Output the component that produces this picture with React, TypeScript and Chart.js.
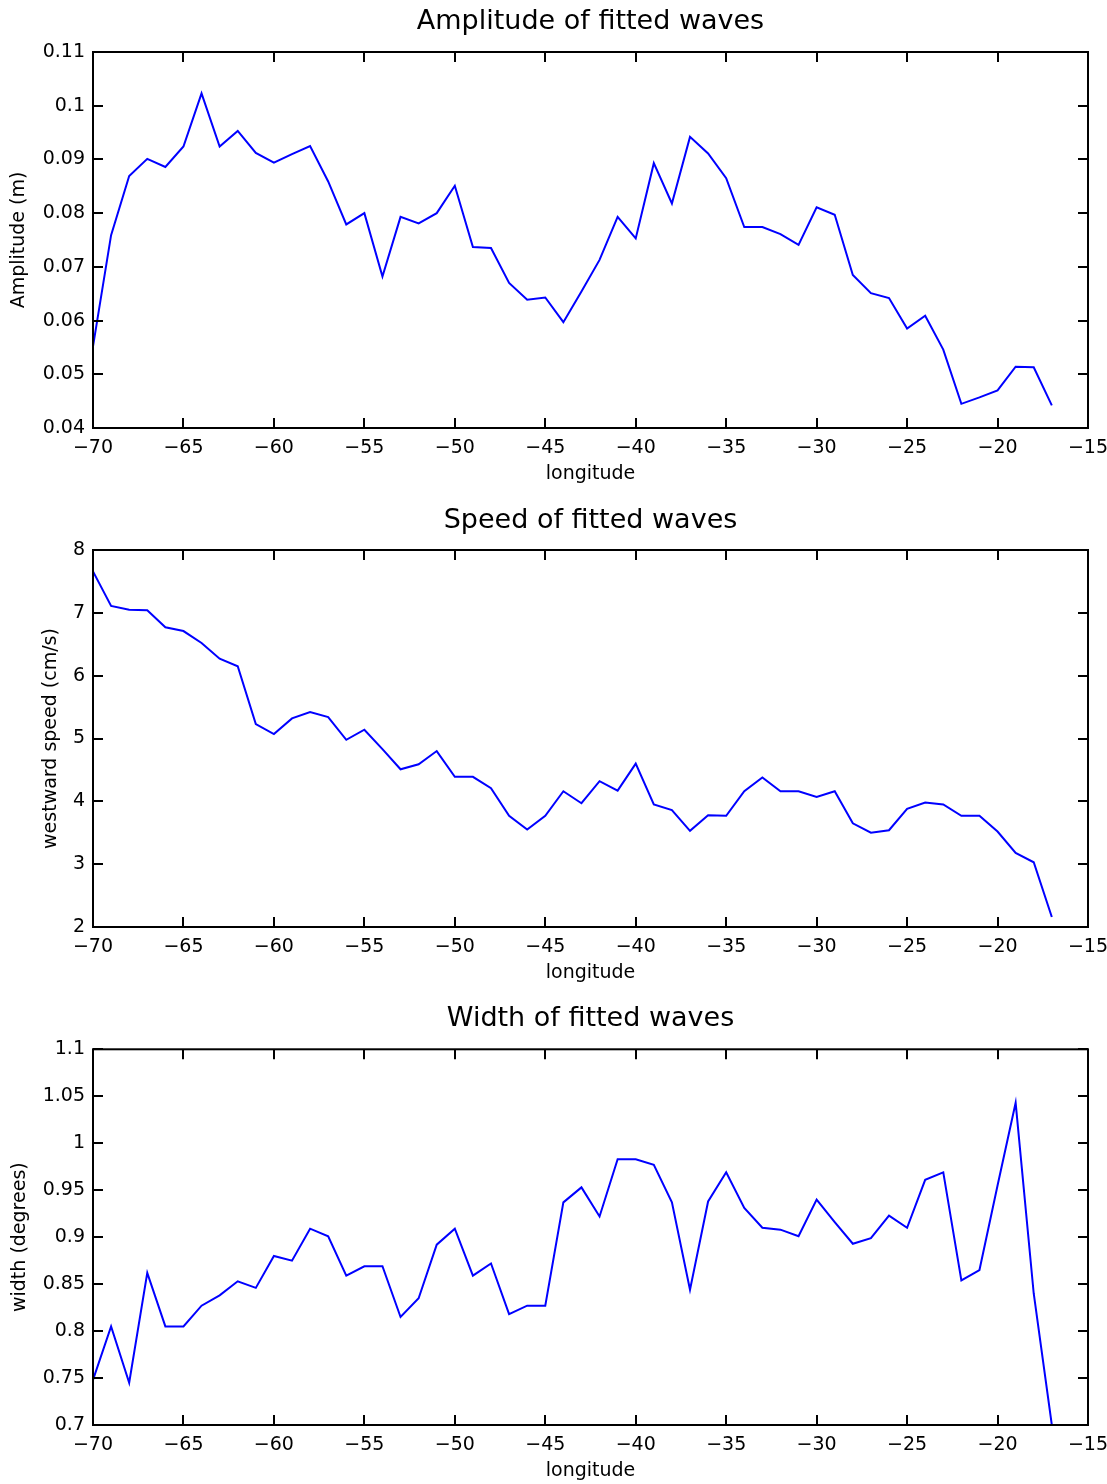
import React, { useEffect, useRef } from 'react';
import { Chart, registerables } from 'chart.js';

Chart.register(...registerables);

// ---- data ----
const longitude = [
  -70, -69, -68, -67, -66, -65, -64, -63, -62, -61,
  -60, -59, -58, -57, -56, -55, -54, -53, -52, -51,
  -50, -49, -48, -47, -46, -45, -44, -43, -42, -41,
  -40, -39, -38, -37, -36, -35, -34, -33, -32, -31,
  -30, -29, -28, -27, -26, -25, -24, -23, -22, -21,
  -20, -19, -18, -17,
];

const amplitude = [
  0.0552, 0.0759, 0.0869, 0.0901, 0.0886, 0.0924, 0.1023, 0.0924, 0.0953, 0.0912,
  0.0894, 0.0910, 0.0925, 0.0859, 0.0779, 0.0800, 0.0682, 0.0793, 0.0781, 0.0800,
  0.0851, 0.0737, 0.0735, 0.0670, 0.0639, 0.0643, 0.0597, 0.0654, 0.0713, 0.0793,
  0.0753, 0.0893, 0.0818, 0.0942, 0.0911, 0.0865, 0.0774, 0.0774, 0.0761, 0.0741,
  0.0811, 0.0797, 0.0685, 0.0651, 0.0642, 0.0585, 0.0609, 0.0546, 0.0445, 0.0457,
  0.0470, 0.0514, 0.0513, 0.0442,
];

const speed = [
  7.66, 7.11, 7.05, 7.04, 6.77, 6.71, 6.52, 6.27, 6.15, 5.23,
  5.07, 5.32, 5.42, 5.34, 4.98, 5.14, 4.83, 4.51, 4.59, 4.80,
  4.39, 4.39, 4.21, 3.77, 3.55, 3.77, 4.16, 3.97, 4.32, 4.17,
  4.60, 3.95, 3.86, 3.53, 3.78, 3.77, 4.16, 4.38, 4.16, 4.16,
  4.07, 4.16, 3.65, 3.50, 3.54, 3.88, 3.98, 3.95, 3.77, 3.77,
  3.52, 3.18, 3.03, 2.16,
];

const waveWidth = [
  0.748, 0.805, 0.745, 0.862, 0.805, 0.805, 0.827, 0.838, 0.853, 0.846,
  0.880, 0.875, 0.909, 0.901, 0.859, 0.869, 0.869, 0.815, 0.835, 0.892,
  0.909, 0.859, 0.872, 0.818, 0.827, 0.827, 0.937, 0.953, 0.922, 0.983,
  0.983, 0.977, 0.937, 0.844, 0.938, 0.969, 0.931, 0.910, 0.908, 0.901,
  0.940, 0.916, 0.893, 0.899, 0.923, 0.910, 0.961, 0.969, 0.854, 0.865,
  0.955, 1.043, 0.840, 0.700,
];

const titles = ['Amplitude of fitted waves', 'Speed of fitted waves', 'Width of fitted waves'];
const yLabels = ['Amplitude (m)', 'westward speed (cm/s)', 'width (degrees)'];
const xLabel = 'longitude';
const xRange = [-70, -15];
const xStep = 5;
const yRanges = [
  [0.04, 0.11],
  [2, 8],
  [0.7, 1.1],
];
const ySteps = [0.01, 1, 0.05];

// ---- styling ----
const FONT = "'DejaVu Sans', 'Liberation Sans', sans-serif";
const TICK_LEN = 10;
const PAGE_W = 1107;

const panelLayout = [
  { top: 0, height: 495, titleTop: 8.5, titleBottom: 16.5, yTitlePad: 10, bottomPad: 11 },
  { top: 495, height: 500, titleTop: 12.5, titleBottom: 15.5, yTitlePad: 42, bottomPad: 12 },
  { top: 995, height: 489, titleTop: 10.5, titleBottom: 16.8, yTitlePad: 11, bottomPad: 3 },
];

const fmt = (v: number | string) =>
  String(parseFloat(Number(v).toFixed(3))).replace('-', '\u2212');

const boxPlugin = {
  id: 'matlabBox',
  afterDraw(chart: any) {
    const { ctx, chartArea: a, scales } = chart;
    const xs = scales.x;
    const ys = scales.y;
    ctx.save();
    ctx.strokeStyle = '#000';
    ctx.lineWidth = 2;
    ctx.beginPath();
    xs.ticks.forEach((t: any) => {
      const px = Math.round(xs.getPixelForValue(t.value));
      ctx.moveTo(px, a.bottom);
      ctx.lineTo(px, a.bottom - TICK_LEN);
      ctx.moveTo(px, a.top);
      ctx.lineTo(px, a.top + TICK_LEN);
    });
    ys.ticks.forEach((t: any) => {
      const py = Math.round(ys.getPixelForValue(t.value));
      ctx.moveTo(a.left, py);
      ctx.lineTo(a.left + TICK_LEN, py);
      ctx.moveTo(a.right, py);
      ctx.lineTo(a.right - TICK_LEN, py);
    });
    ctx.stroke();
    ctx.strokeRect(a.left, a.top, a.right - a.left, a.bottom - a.top);
    ctx.restore();
  },
};

function makeConfig(i: number, values: number[]) {
  const L = panelLayout[i];
  return {
    type: 'line' as const,
    data: {
      datasets: [
        {
          data: longitude.map((x, k) => ({ x, y: values[k] })),
          borderColor: '#0000ff',
          borderWidth: 2,
          pointRadius: 0,
          tension: 0,
          fill: false,
        },
      ],
    },
    options: {
      responsive: false,
      animation: false as const,
      devicePixelRatio: 1,
      layout: { padding: { left: 0, right: PAGE_W - 1088, top: 0, bottom: L.bottomPad } },
      plugins: {
        legend: { display: false },
        tooltip: { enabled: false },
        title: {
          display: true,
          text: titles[i],
          fullSize: false,
          color: '#000',
          font: { family: FONT, size: 27, weight: 'normal' as const, lineHeight: 1 },
          padding: { top: L.titleTop, bottom: L.titleBottom },
        },
      },
      scales: {
        x: {
          type: 'linear' as const,
          min: xRange[0],
          max: xRange[1],
          grid: { display: false, drawTicks: false },
          border: { display: false },
          ticks: {
            stepSize: xStep,
            autoSkip: false,
            maxRotation: 0,
            color: '#000',
            padding: 9,
            font: { family: FONT, size: 19 },
            callback: (v: any) => fmt(v),
          },
          title: {
            display: true,
            text: xLabel,
            color: '#000',
            font: { family: FONT, size: 19, lineHeight: 1 },
            padding: { top: 0, bottom: 0.5 },
          },
          afterFit(s: any) {
            s.height = 56;
            s.paddingLeft = 0;
            s.paddingRight = 0;
          },
        },
        y: {
          type: 'linear' as const,
          min: yRanges[i][0],
          max: yRanges[i][1],
          grid: { display: false, drawTicks: false },
          border: { display: false },
          ticks: {
            stepSize: ySteps[i],
            color: '#000',
            padding: 8,
            font: { family: FONT, size: 19 },
            callback: (v: any) => fmt(v),
          },
          title: {
            display: true,
            text: yLabels[i],
            color: '#000',
            font: { family: FONT, size: 19, lineHeight: 1 },
            padding: { top: L.yTitlePad, bottom: 0 },
          },
          afterFit(s: any) {
            s.width = 93;
            s.paddingTop = 0;
            s.paddingBottom = 0;
          },
        },
      },
    },
    plugins: [boxPlugin],
  };
}

export default function App() {
  const r0 = useRef<HTMLCanvasElement>(null);
  const r1 = useRef<HTMLCanvasElement>(null);
  const r2 = useRef<HTMLCanvasElement>(null);

  useEffect(() => {
    const series = [amplitude, speed, waveWidth];
    const refs = [r0, r1, r2];
    const charts = refs.map((r, i) => new Chart(r.current as HTMLCanvasElement, makeConfig(i, series[i]) as any));
    return () => charts.forEach((c) => c.destroy());
  }, []);

  const refs = [r0, r1, r2];
  return (
    <div style={{ position: 'absolute', left: 0, top: 0, width: PAGE_W, height: 1484, background: '#fff' }}>
      {panelLayout.map((L, i) => (
        <canvas
          key={i}
          ref={refs[i]}
          width={PAGE_W}
          height={L.height}
          style={{ position: 'absolute', left: 0, top: L.top, width: PAGE_W, height: L.height }}
        />
      ))}
    </div>
  );
}
